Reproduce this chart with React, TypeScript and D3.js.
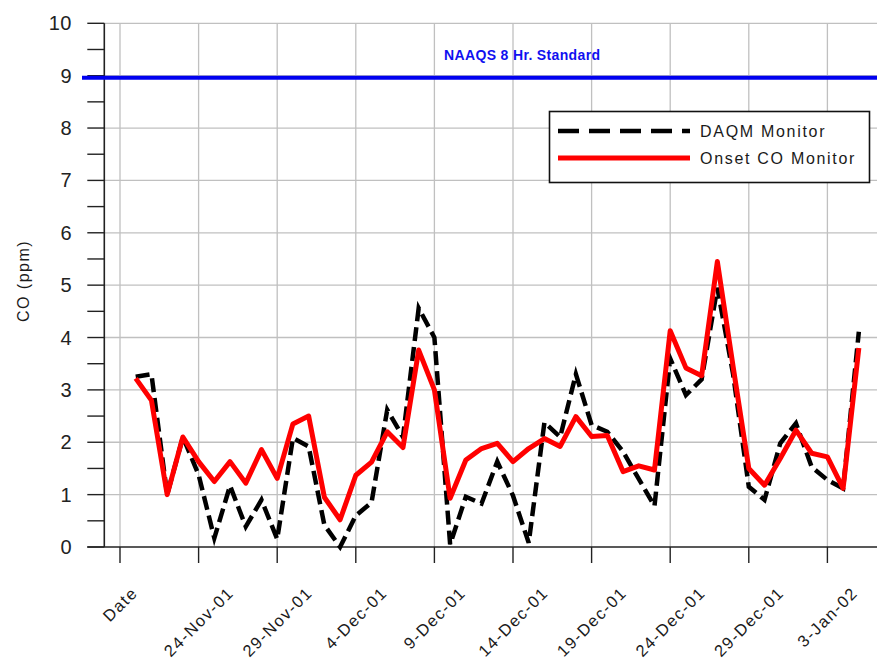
import React, { useEffect, useRef } from "react";
import * as d3 from "d3";

const categories = [
  "Date",
  "20-Nov-01", "21-Nov-01", "22-Nov-01", "23-Nov-01", "24-Nov-01", "25-Nov-01", "26-Nov-01", "27-Nov-01", "28-Nov-01", "29-Nov-01", "30-Nov-01",
  "1-Dec-01", "2-Dec-01", "3-Dec-01", "4-Dec-01", "5-Dec-01", "6-Dec-01", "7-Dec-01", "8-Dec-01", "9-Dec-01", "10-Dec-01",
  "11-Dec-01", "12-Dec-01", "13-Dec-01", "14-Dec-01", "15-Dec-01", "16-Dec-01", "17-Dec-01", "18-Dec-01", "19-Dec-01", "20-Dec-01",
  "21-Dec-01", "22-Dec-01", "23-Dec-01", "24-Dec-01", "25-Dec-01", "26-Dec-01", "27-Dec-01", "28-Dec-01", "29-Dec-01", "30-Dec-01",
  "31-Dec-01", "1-Jan-02", "2-Jan-02", "3-Jan-02", "4-Jan-02", "5-Jan-02",
];

const tickLabels = ["Date", "24-Nov-01", "29-Nov-01", "4-Dec-01", "9-Dec-01", "14-Dec-01", "19-Dec-01", "24-Dec-01", "29-Dec-01", "3-Jan-02"];

// values for 20-Nov-01 .. 5-Jan-02
const daqmValues = [
  3.25, 3.3, 1.0, 2.1, 1.38, 0.17, 1.17, 0.39, 0.9, 0.15, 2.08,
  1.92, 0.42, 0.0, 0.6, 0.85, 2.62, 2.1, 4.56, 4.0, 0.05,
  0.96, 0.83, 1.63, 0.98, 0.08, 2.38, 2.1, 3.3, 2.33, 2.2,
  1.82, 1.3, 0.78, 3.6, 2.9, 3.2, 4.95, 3.3, 1.15, 0.9,
  1.98, 2.36, 1.53, 1.28, 1.12, 4.11,
];

const onsetValues = [
  3.22, 2.8, 1.0, 2.1, 1.63, 1.25, 1.63, 1.22, 1.86, 1.31, 2.35,
  2.5, 0.95, 0.52, 1.37, 1.62, 2.2, 1.9, 3.76, 3.0, 0.93,
  1.66, 1.88, 1.98, 1.63, 1.88, 2.07, 1.92, 2.49, 2.11, 2.13,
  1.44, 1.55, 1.47, 4.13, 3.42, 3.27, 5.45, 3.45, 1.5, 1.18,
  1.69, 2.23, 1.79, 1.72, 1.12, 3.8,
];

const standardValue = 9;
const standardLabel = "NAAQS 8 Hr. Standard";
const seriesNames = ["DAQM Monitor", "Onset CO Monitor"];
const yTicks = [0, 1, 2, 3, 4, 5, 6, 7, 8, 9, 10];
const yMinorTicks = d3.range(0, 10.01, 0.5);

const W = 877;
const H = 667;
const FONT = "'Liberation Sans', Arial, sans-serif";

export default function App() {
  const ref = useRef<SVGSVGElement>(null);

  useEffect(() => {
    const svg = d3.select(ref.current);
    svg.selectAll("*").remove();

    const step = 15.72;
    const x = d3.scalePoint<string>().domain(categories).range([120, 120 + step * (categories.length - 1)]);
    const y = d3.scaleLinear().domain([0, 10]).range([547, 23.3]);
    const left = 104.3;
    const right = W;

    const g = svg.append("g");

    // horizontal gridlines
    g.selectAll(".hg").data(yTicks.filter((t) => t > 0)).enter().append("line")
      .attr("x1", left).attr("x2", right)
      .attr("y1", (d) => y(d)).attr("y2", (d) => y(d))
      .attr("stroke", "#c0c0c0").attr("stroke-width", 1.3);

    // vertical gridlines
    g.selectAll(".vg").data(tickLabels).enter().append("line")
      .attr("x1", (d) => x(d)!).attr("x2", (d) => x(d)!)
      .attr("y1", y(10)).attr("y2", y(0))
      .attr("stroke", "#c0c0c0").attr("stroke-width", 1.3);

    // y axis
    g.append("line").attr("x1", left).attr("x2", left).attr("y1", y(10)).attr("y2", y(0))
      .attr("stroke", "#222").attr("stroke-width", 1.6);
    g.selectAll(".yt").data(yMinorTicks).enter().append("line")
      .attr("x1", left - 17).attr("x2", left)
      .attr("y1", (d) => y(d)).attr("y2", (d) => y(d))
      .attr("stroke", "#222").attr("stroke-width", 1.4);
    g.selectAll(".yl").data(yTicks).enter().append("text")
      .attr("x", 72).attr("y", (d) => y(d))
      .attr("text-anchor", "end").attr("dominant-baseline", "central")
      .attr("font-family", FONT).attr("font-size", 20).attr("letter-spacing", 0.5)
      .attr("fill", "#222")
      .text((d) => String(d));

    // x axis
    g.append("line").attr("x1", left - 17).attr("x2", right).attr("y1", y(0)).attr("y2", y(0))
      .attr("stroke", "#222").attr("stroke-width", 1.6);
    g.selectAll(".xt").data(tickLabels).enter().append("line")
      .attr("x1", (d) => x(d)!).attr("x2", (d) => x(d)!)
      .attr("y1", y(0)).attr("y2", y(0) + 16)
      .attr("stroke", "#222").attr("stroke-width", 1.4);
    const xl = g.selectAll(".xl").data(tickLabels).enter().append("text")
      .attr("text-anchor", "middle").attr("dominant-baseline", "central")
      .attr("font-family", FONT).attr("font-size", 16.5).attr("letter-spacing", 1.5)
      .attr("fill", "#1a1a1a")
      .text((d) => d);
    xl.each(function (d) {
      const el = this as SVGTextElement;
      const w = el.getComputedTextLength();
      const h = 13;
      const cy = 585 + (w + h) / (2 * Math.SQRT2);
      d3.select(el).attr("transform", `translate(${x(d)},${cy}) rotate(-45)`);
    });

    // y title
    g.append("text")
      .attr("transform", `translate(23,${281}) rotate(-90)`)
      .attr("text-anchor", "middle").attr("dominant-baseline", "central")
      .attr("font-family", FONT).attr("font-size", 16).attr("letter-spacing", 1.5)
      .attr("fill", "#1a1a1a")
      .text("CO (ppm)");

    // standard line
    g.append("line").attr("x1", 82).attr("x2", right)
      .attr("y1", y(standardValue) + 2).attr("y2", y(standardValue) + 2)
      .attr("stroke", "#0000f0").attr("stroke-width", 4);
    g.append("text").attr("x", 444).attr("y", 55)
      .attr("dominant-baseline", "central")
      .attr("font-family", FONT).attr("font-size", 14).attr("font-weight", "bold")
      .attr("textLength", 156).attr("lengthAdjust", "spacing")
      .attr("fill", "#1010f0")
      .text(standardLabel);

    const dataCats = categories.slice(1);
    const line = d3.line<number>()
      .x((_, i) => x(dataCats[i])!)
      .y((d) => y(d));

    g.append("path").attr("d", line(daqmValues)!)
      .attr("fill", "none").attr("stroke", "#000").attr("stroke-width", 4.5)
      .attr("stroke-dasharray", "14,6");
    g.append("path").attr("d", line(onsetValues)!)
      .attr("fill", "none").attr("stroke", "#ff0000").attr("stroke-width", 5)
      .attr("stroke-linejoin", "round");

    // legend
    const lg = g.append("g");
    lg.append("rect").attr("x", 549.5).attr("y", 111.5).attr("width", 320).attr("height", 71)
      .attr("fill", "#fff").attr("stroke", "#111").attr("stroke-width", 1.6);
    lg.append("line").attr("x1", 558).attr("x2", 690).attr("y1", 131).attr("y2", 131)
      .attr("stroke", "#000").attr("stroke-width", 4.5).attr("stroke-dasharray", "21,10");
    lg.append("line").attr("x1", 558).attr("x2", 690).attr("y1", 158).attr("y2", 158)
      .attr("stroke", "#ff0000").attr("stroke-width", 5);
    lg.selectAll(".lt").data(seriesNames).enter().append("text")
      .attr("x", 700).attr("y", (_, i) => 131 + i * 27)
      .attr("dominant-baseline", "central")
      .attr("font-family", FONT).attr("font-size", 16).attr("letter-spacing", 1.7)
      .attr("fill", "#1a1a1a")
      .text((d) => d);
  }, []);

  return (
    <svg
      ref={ref}
      width={W}
      height={H}
      style={{ position: "absolute", left: 0, top: 0, background: "#fff" }}
    />
  );
}
